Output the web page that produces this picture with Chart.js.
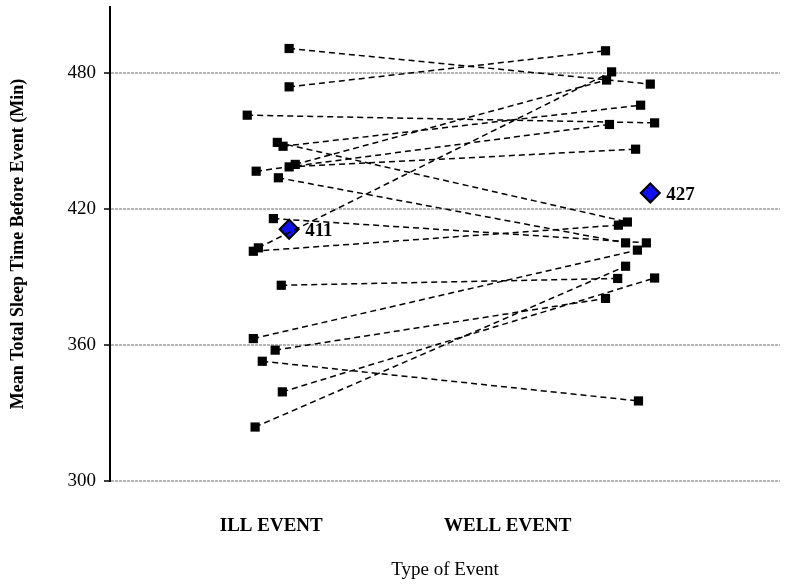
<!DOCTYPE html>
<html>
<head>
<meta charset="utf-8">
<script src="https://cdn.jsdelivr.net/npm/chart.js@4"></script>
<style>
  html, body { margin: 0; padding: 0; background: #fff; }
  #wrap { width: 800px; height: 587px; }
</style>
</head>
<body>
<div id="wrap"><canvas id="sleepChart"></canvas></div>
<script>
// categories and tick positions on the x scale
const categories = ['ILL EVENT', 'WELL EVENT'];
const categoryTicks = [1, 1.66];
const illCenter = 1;
const wellCenter = 2;

// paired subject values (minutes), ill event vs well event
const illValues  = [490.7, 473.8, 461.3, 449.3, 447.6, 436.6, 438.5, 439.6, 433.7, 415.7, 402.8, 401.3, 386.3, 362.8, 357.7, 352.8, 339.3, 323.8];
const wellValues = [475.0, 489.7, 457.9, 414.2, 465.7, 457.2, 446.3, 476.8, 405.0, 405.0, 480.4, 412.8, 389.3, 401.8, 380.5, 335.3, 389.5, 394.7];
// horizontal jitter of each marker within its category
const illOffsets  = [0.05, 0.05, -0.067, 0.017, 0.033, -0.042, 0.05, 0.067, 0.02, 0.006, -0.036, -0.05, 0.028, -0.05, 0.011, -0.025, 0.031, -0.045];
const wellOffsets = [0.058, -0.067, 0.07, -0.006, 0.031, -0.056, 0.017, -0.064, -0.011, 0.047, -0.05, -0.031, -0.033, 0.022, -0.067, 0.025, 0.07, -0.011];

// group means
const meanValues = [411, 427];
const meanOffsets = [0.05, 0.058];

const yTicks = [300, 360, 420, 480];

const serif = "'Liberation Serif', 'Times New Roman', serif";

const datasets = illValues.map((v, i) => ({
  data: [
    { x: illCenter + illOffsets[i], y: v },
    { x: wellCenter + wellOffsets[i], y: wellValues[i] }
  ],
  showLine: true,
  borderColor: '#000',
  borderWidth: 1.5,
  borderDash: [6, 4],
  pointStyle: 'rect',
  pointRadius: 6.5,
  pointBackgroundColor: '#000',
  pointBorderColor: '#000',
  pointBorderWidth: 0
}));

datasets.push({
  data: meanValues.map((v, i) => ({ x: [illCenter, wellCenter][i] + meanOffsets[i], y: v })),
  showLine: false,
  pointStyle: 'rectRot',
  pointRadius: 9.5,
  pointBackgroundColor: '#1010ee',
  pointBorderColor: '#000',
  pointBorderWidth: 2
});

// write the mean value beside each diamond
const meanLabels = {
  id: 'meanLabels',
  afterDatasetsDraw(chart) {
    const ctx = chart.ctx;
    const meta = chart.getDatasetMeta(chart.data.datasets.length - 1);
    ctx.save();
    ctx.font = "bold 19px " + serif;
    ctx.fillStyle = '#000';
    ctx.textBaseline = 'middle';
    meta.data.forEach((pt, i) => {
      ctx.fillText(String(meanValues[i]), pt.x + 16, pt.y + 2);
    });
    ctx.restore();
  }
};

new Chart(document.getElementById('sleepChart'), {
  type: 'scatter',
  data: { datasets: datasets },
  plugins: [meanLabels],
  options: {
    responsive: true,
    maintainAspectRatio: false,
    animation: false,
    layout: { autoPadding: false, padding: { top: 7, right: 20, left: 8, bottom: 6 } },
    plugins: { legend: { display: false }, tooltip: { enabled: false } },
    scales: {
      x: {
        type: 'linear',
        min: 0.55,
        max: 2.42,
        grid: { display: false, drawTicks: false },
        border: { display: false },
        afterBuildTicks: scale => { scale.ticks = categoryTicks.map(v => ({ value: v })); },
        afterFit: scale => { scale.height = 100; },
        ticks: {
          padding: 34,
          color: '#000',
          font: { family: serif, size: 19, weight: 'bold' },
          callback: (v, i) => categories[i]
        },
        title: {
          display: true,
          text: 'Type of Event',
          color: '#000',
          padding: { top: 0, bottom: 0 },
          font: { family: serif, size: 19 }
        }
      },
      y: {
        min: 300,
        max: 509,
        afterBuildTicks: scale => { scale.ticks = yTicks.map(v => ({ value: v })); },
        afterFit: scale => {
          scale.width = 102;
          scale.paddingTop = 0;
          scale.paddingBottom = 0;
        },
        grid: {
          color: '#b4b4b4',
          lineWidth: 2,
          tickColor: '#000',
          tickLength: 6,
          tickWidth: 1.5
        },
        border: { display: true, color: '#000', width: 2, dash: [3, 1] },
        ticks: {
          padding: 8,
          color: '#000',
          font: { family: serif, size: 19 }
        },
        title: {
          display: true,
          text: 'Mean Total Sleep Time Before Event (Min)',
          color: '#000',
          padding: { top: 0, bottom: 0 },
          font: { family: serif, size: 18, weight: 'bold' }
        }
      }
    }
  }
});
</script>
</body>
</html>
